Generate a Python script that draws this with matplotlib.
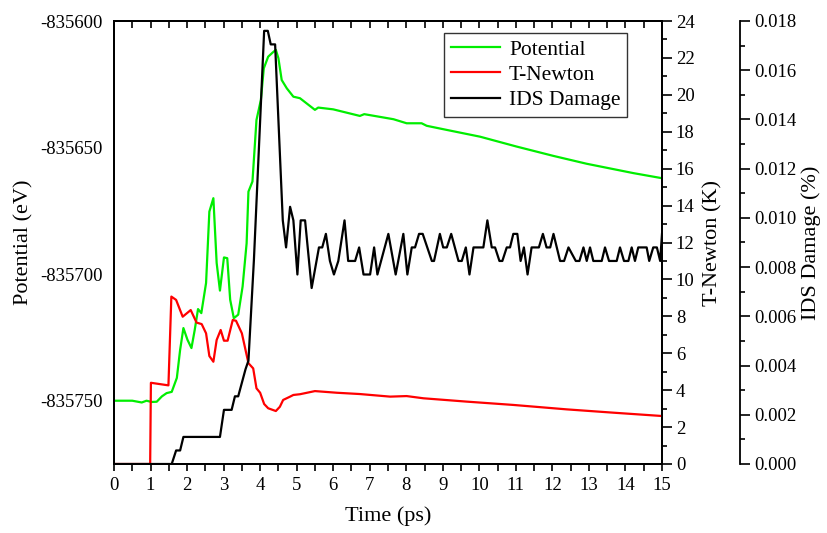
import numpy as np
import matplotlib
matplotlib.use("Agg")
import matplotlib.pyplot as plt
from matplotlib.ticker import MultipleLocator, FormatStrFormatter

# -- data ---------------------------------------------------------
pot_time = [0, 0.5, 0.76, 0.89, 1.03, 1.17, 1.31, 1.44, 1.58, 1.72, 1.81, 1.90,
            2.01, 2.12, 2.21, 2.30, 2.39, 2.52, 2.61, 2.72, 2.81, 2.90, 3.01, 3.10,
            3.18, 3.28, 3.40, 3.52, 3.63, 3.68, 3.79, 3.90, 4.02, 4.10, 4.22, 4.34,
            4.43, 4.50, 4.59, 4.73, 4.91, 5.09, 5.50, 5.59, 6.00, 6.73, 6.85, 7.65,
            8.01, 8.42, 8.56, 9.10, 10.02, 11.02, 12.03, 12.94, 14.22, 15.0]
potential = [-835750.0, -835750.0, -835750.7, -835750.0, -835750.5, -835750.4,
             -835748.3, -835747.0, -835746.5, -835741.0, -835729.9, -835721.3,
             -835725.9, -835729.2, -835722.0, -835713.8, -835715.4, -835703.5,
             -835675.3, -835670.0, -835695.6, -835706.5, -835693.4, -835693.7,
             -835710.1, -835717.4, -835716.0, -835704.9, -835687.8, -835667.4,
             -835663.4, -835639.1, -835631.2, -835618.7, -835614.1, -835612.5,
             -835611.4, -835614.7, -835623.3, -835626.6, -835629.9, -835630.5,
             -835635.1, -835634.2, -835634.9, -835637.5, -835636.8, -835638.8,
             -835640.4, -835640.4, -835641.4, -835643.0, -835645.7, -835649.6,
             -835653.3, -835656.4, -835660.1, -835662.1]

temp_time = [0, 0.99, 1.01, 1.49, 1.57, 1.70, 1.88, 2.10, 2.26, 2.40, 2.52, 2.61,
             2.72, 2.81, 2.92, 3.01, 3.11, 3.25, 3.34, 3.50, 3.68, 3.81, 3.90, 4.00,
             4.11, 4.22, 4.43, 4.54, 4.63, 4.82, 4.91, 5.09, 5.50, 6.10, 6.73, 7.56,
             8.01, 8.47, 9.65, 10.93, 12.39, 13.67, 15.0]
t_newton = [0, 0, 4.40, 4.26, 9.07, 8.89, 7.98, 8.34, 7.66, 7.58, 7.08, 5.85,
            5.54, 6.72, 7.26, 6.68, 6.68, 7.80, 7.76, 7.08, 5.46, 5.18, 4.10, 3.86,
            3.25, 3.02, 2.87, 3.10, 3.47, 3.65, 3.74, 3.78, 3.95, 3.86, 3.79, 3.65,
            3.68, 3.56, 3.38, 3.20, 2.96, 2.78, 2.60]

ids_time = [0, 1.58, 1.70, 1.81, 1.90, 2.90, 3.01, 3.22, 3.31, 3.40, 3.60, 3.68,
            3.83, 4.11, 4.21, 4.29, 4.41, 4.62, 4.71, 4.82, 4.91, 5.02, 5.11, 5.23,
            5.41, 5.61, 5.70, 5.80, 5.91, 6.02, 6.14, 6.31, 6.41, 6.60, 6.71, 6.83,
            7.01, 7.12, 7.21, 7.51, 7.71, 7.92, 8.03, 8.15, 8.24, 8.35, 8.45, 8.70,
            8.76, 8.92, 9.01, 9.11, 9.23, 9.43, 9.52, 9.63, 9.73, 9.84, 10.11, 10.22,
            10.34, 10.43, 10.55, 10.63, 10.75, 10.84, 10.93, 11.04, 11.13, 11.22,
            11.32, 11.43, 11.63, 11.74, 11.84, 11.94, 12.03, 12.21, 12.32, 12.44,
            12.64, 12.74, 12.85, 12.94, 13.03, 13.12, 13.35, 13.44, 13.55, 13.76,
            13.85, 13.96, 14.08, 14.17, 14.26, 14.35, 14.58, 14.65, 14.76, 14.86,
            14.95, 15.0]
ids_damage = [0, 0, 0.00055, 0.00055, 0.0011, 0.0011, 0.0022, 0.0022, 0.00275,
              0.00275, 0.00385, 0.0042, 0.0083, 0.0176, 0.0176, 0.01705, 0.01705,
              0.0099, 0.0088, 0.01045, 0.0099, 0.0077, 0.0099, 0.0099, 0.00715,
              0.0088, 0.0088, 0.00935, 0.00825, 0.0077, 0.00825, 0.0099, 0.00825,
              0.00825, 0.0088, 0.0077, 0.0077, 0.0088, 0.0077, 0.00935, 0.0077,
              0.00935, 0.0077, 0.0088, 0.0088, 0.00935, 0.00935, 0.00825, 0.00825,
              0.00935, 0.0088, 0.0088, 0.00935, 0.00825, 0.00825, 0.0088, 0.0077,
              0.0088, 0.0088, 0.0099, 0.0088, 0.0088, 0.00825, 0.00825, 0.0088,
              0.0088, 0.00935, 0.00935, 0.00825, 0.0088, 0.0077, 0.0088, 0.0088,
              0.00935, 0.0088, 0.0088, 0.00935, 0.00825, 0.00825, 0.0088, 0.00825,
              0.00825, 0.0088, 0.00825, 0.0088, 0.00825, 0.00825, 0.0088, 0.00825,
              0.00825, 0.0088, 0.00825, 0.00825, 0.0088, 0.00825, 0.0088, 0.0088,
              0.00825, 0.0088, 0.0088, 0.00825, 0.00935]

# -- style ---------------------------------------------------------
plt.rcParams['font.family'] = ['Liberation Serif', 'DejaVu Serif']
plt.rcParams['axes.unicode_minus'] = False
plt.rcParams['axes.linewidth'] = 1.3

tick_fs  = 13.5
label_fs = 16

fig = plt.figure(figsize=(8.27, 5.33), dpi=100)
ax  = fig.add_axes((114/827, 1 - 464/533, 548/827, 443/533))
ax2 = ax.twinx()
ax3 = ax.twinx()

# -- lines ---------------------------------------------------------
l1, = ax.plot(pot_time, potential, color='#00ee00', lw=1.6, label='Potential')
l2, = ax2.plot(temp_time, t_newton, color='#ff0000', lw=1.6, label='T-Newton')
l3, = ax3.plot(ids_time, ids_damage, color='black', lw=1.6, label='IDS Damage')

# -- bottom / left axis --------------------------------------------
ax.set_xlim(0, 15)
ax.set_ylim(-835775, -835600)
ax.xaxis.set_major_locator(MultipleLocator(1))
ax.xaxis.set_minor_locator(MultipleLocator(0.5))
ax.yaxis.set_major_locator(MultipleLocator(50))
ax.ticklabel_format(axis='y', useOffset=False, style='plain')
ax.tick_params(axis='x', which='both', direction='out', length=5, width=1.2,
               labelsize=tick_fs, pad=4)
ax.tick_params(axis='y', which='both', length=0, labelsize=tick_fs, pad=8)
ax.set_xlabel('Time (ps)', fontsize=label_fs, labelpad=9)
ax.set_ylabel('Potential (eV)', fontsize=label_fs, labelpad=5)

top = ax.secondary_xaxis('top')
top.xaxis.set_major_locator(MultipleLocator(0.5))
top.tick_params(direction='in', length=5, width=1.2, labeltop=False)

# -- T-Newton axis -------------------------------------------------
ax2.set_ylim(0, 24)
ax2.yaxis.set_major_locator(MultipleLocator(2))
ax2.yaxis.set_minor_locator(MultipleLocator(1))
ax2.tick_params(axis='y', which='major', direction='out', length=7, width=1.2,
                labelsize=tick_fs, pad=3)
ax2.tick_params(axis='y', which='minor', direction='out', length=3.5, width=1.2)
ax2.set_ylabel('T-Newton (K)', fontsize=label_fs, labelpad=6)

# -- IDS axis ------------------------------------------------------
ax3.spines['right'].set_position(('axes', (740 - 114) / 548))
ax3.set_ylim(0, 0.018)
ax3.yaxis.set_major_locator(MultipleLocator(0.002))
ax3.yaxis.set_minor_locator(MultipleLocator(0.001))
ax3.yaxis.set_major_formatter(FormatStrFormatter('%.3f'))
ax3.tick_params(axis='y', which='major', direction='out', length=7, width=1.2,
                labelsize=tick_fs, pad=3)
ax3.tick_params(axis='y', which='minor', direction='out', length=3.5, width=1.2)
ax3.set_ylabel('IDS Damage (%)', fontsize=label_fs, labelpad=4)

# -- legend --------------------------------------------------------
leg = ax3.legend(handles=[l1, l2, l3], loc='upper right',
                 bbox_to_anchor=((627 - 114) / 548, 1 - 12 / 443),
                 borderaxespad=0, fontsize=15.5, frameon=True, fancybox=False,
                 edgecolor='black', handlelength=2.3, handletextpad=0.4,
                 labelspacing=0.25, borderpad=0.3)
leg.get_frame().set_linewidth(1.0)

fig.savefig('out.png', dpi=100)
